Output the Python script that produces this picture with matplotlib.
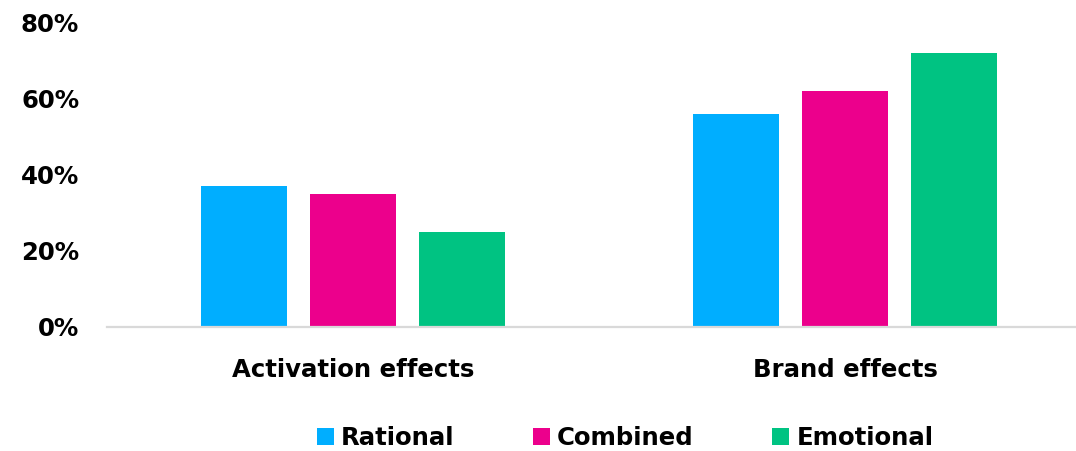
import matplotlib
matplotlib.use("Agg")
import matplotlib.pyplot as plt
import numpy as np
from matplotlib.patches import Patch

categories = ["Activation effects", "Brand effects"]
series_names = ["Rational", "Combined", "Emotional"]
rational = [37, 56]
combined = [35, 62]
emotional = [25, 72]
y_ticks = [0, 20, 40, 60, 80]
y_tick_labels = ["0%", "20%", "40%", "60%", "80%"]

colors = ["#00AEFF", "#EC008C", "#00C382"]
FS = 17.6

plt.rcParams["font.family"] = ["DejaVu Sans"]
plt.rcParams["font.weight"] = "bold"

W, H = 1076, 451
fig = plt.figure(figsize=(W / 100, H / 100), dpi=100)
left, right, bottom, top = 107, 1091, 451 - 327, 451 - 22.7
ax = fig.add_axes([left / W, bottom / H, (right - left) / W, (top - bottom) / H])

x = np.arange(len(categories))
bar_w = 0.175
step = 0.2215
for i, (vals, c, name) in enumerate(zip([rational, combined, emotional], colors, series_names)):
    ax.bar(x + (i - 1) * step, vals, width=bar_w, color=c, label=name, zorder=2)

ax.set_xlim(-0.5, 1.5)
ax.set_ylim(0, 80)
ax.set_yticks(y_ticks)
ax.set_yticklabels(y_tick_labels, fontsize=FS, fontweight="bold", color="#000000")
ax.set_xticks(x)
ax.set_xticklabels(categories, fontsize=FS, fontweight="bold", color="#000000")
ax.tick_params(axis="y", length=0, pad=20)
ax.tick_params(axis="x", length=0, pad=22)

for s in ["top", "right", "left"]:
    ax.spines[s].set_visible(False)
ax.spines["bottom"].set_color("#D9D9D9")
ax.spines["bottom"].set_linewidth(1.6)
ax.spines["bottom"].set_zorder(3)

handles = [Patch(facecolor=c, edgecolor="none") for c in colors]
fig.legend(handles, series_names, loc="center", bbox_to_anchor=(625 / W, 1 - 438 / H),
           ncol=3, frameon=False, prop={"size": FS, "weight": "bold"},
           handlelength=0.7, handleheight=0.68, handletextpad=0.3,
           columnspacing=3.2, borderpad=0, borderaxespad=0)

fig.savefig("out.png", dpi=100)
